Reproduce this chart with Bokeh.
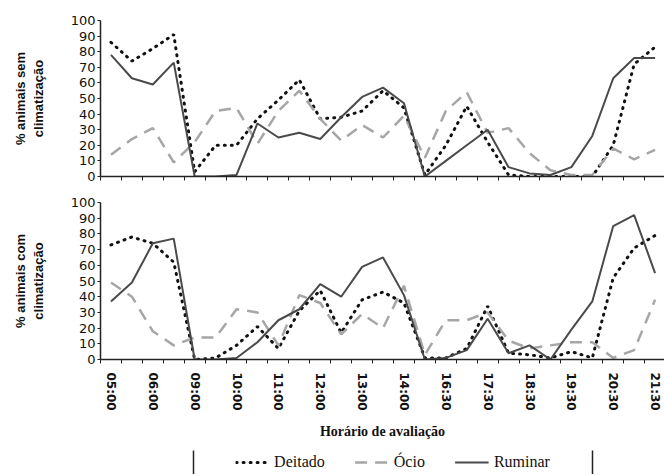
from bokeh.plotting import figure
from bokeh.models import FixedTicker, Range1d, LinearAxis, Legend, LegendItem
from bokeh.layouts import column
from bokeh.embed import file_html
from bokeh.resources import INLINE

# ---- data ----
times = ["05:00", "05:30", "06:00", "06:30", "09:00", "09:30", "10:00", "10:30",
         "11:00", "11:30", "12:00", "12:30", "13:00", "13:30", "14:00", "14:30",
         "16:30", "17:00", "17:30", "18:00", "18:30", "19:00", "19:30", "20:00",
         "20:30", "21:00", "21:30"]

# sem climatização (top panel)
sem_deitado = [86, 74, 82, 91, 3, 20, 20, 37, 49, 62, 37, 38, 42, 55, 44, 1,
               20, 45, 22, 1, 0, 0, 0, 0, 20, 72, 83]
sem_ocio = [14, 24, 31, 9, 22, 42, 44, 21, 42, 55, 37, 23, 33, 25, 39, 12,
            42, 54, 28, 31, 15, 4, 1, 1, 18, 11, 17]
sem_ruminar = [78, 63, 59, 73, 0, 0, 1, 34, 25, 28, 24, 38, 51, 57, 47, 0,
               10, 20, 30, 6, 2, 1, 6, 26, 63, 76, 76]

# com climatização (bottom panel)
com_deitado = [73, 78, 74, 62, 0, 1, 9, 21, 7, 31, 44, 17, 38, 43, 36, 1,
               1, 7, 34, 4, 3, 1, 5, 1, 52, 71, 79]
com_ocio = [49, 40, 18, 9, 14, 14, 32, 30, 9, 41, 36, 16, 29, 20, 47, 3,
            25, 25, 30, 12, 7, 9, 11, 11, 1, 6, 38]
com_ruminar = [37, 49, 74, 77, 0, 0, 1, 11, 25, 32, 48, 40, 59, 65, 41, 0,
               1, 6, 26, 4, 9, 0, 19, 37, 85, 92, 55]

y_ticks = list(range(0, 101, 10))
series_names = ["Deitado", "Ócio", "Ruminar"]

SANS = "DejaVu Sans"
AXIS_FONT = "Liberation Sans"
SERIF = "Liberation Serif"

C_DEIT = "#111111"
C_OCIO = "#a6a6a6"
C_RUM = "#4a4a4a"
C_AXIS = "#222222"

W = 664
xs = list(range(len(times)))
label_idx = list(range(0, len(times), 2))
minor = [i - 0.5 for i in range(len(times) + 1)]


def style_lines(p, d, o, r, xv=None):
    xv = xs if xv is None else xv
    r1 = p.line(xv, d, line_color=C_DEIT, line_width=3, line_dash="1 6",
                line_cap="round")
    r2 = p.line(xv, o, line_color=C_OCIO, line_width=2.5, line_dash="12 8")
    r3 = p.line(xv, r, line_color=C_RUM, line_width=2)
    return r1, r2, r3


def make_panel(ylabel, d, o, r, height, top_b, bottom_b, show_labels):
    p = figure(width=W, height=height, output_backend="svg", toolbar_location=None,
               x_range=Range1d(-0.5, 26.45), y_range=Range1d(0, 100),
               min_border_left=100, min_border_right=0, min_border_top=top_b,
               min_border_bottom=bottom_b)
    p.frame_align = False
    p.grid.visible = False
    p.outline_line_color = None
    p.background_fill_color = "white"
    style_lines(p, d, o, r)

    ya = p.yaxis[0]
    ya.ticker = FixedTicker(ticks=y_ticks, minor_ticks=[])
    ya.major_tick_out = 3
    ya.major_tick_in = 0
    ya.major_label_standoff = 2
    ya.major_label_text_font = SANS
    ya.major_label_text_font_size = "13px"
    ya.major_label_text_color = "#111111"
    ya.axis_line_color = C_AXIS
    ya.axis_line_width = 1.5
    ya.major_tick_line_color = C_AXIS
    ya.axis_label = ylabel
    ya.axis_label_text_font = AXIS_FONT
    ya.axis_label_text_font_style = "bold"
    ya.axis_label_text_font_size = "13px"
    ya.axis_label_text_color = "#111111"
    ya.axis_label_standoff = 22

    xa = p.xaxis[0]
    xa.axis_line_color = C_AXIS
    xa.axis_line_width = 1.5
    xa.major_tick_line_color = None
    xa.major_tick_out = 0
    xa.major_tick_in = 0
    xa.minor_tick_line_color = C_AXIS
    xa.minor_tick_out = 4
    xa.minor_tick_in = 0
    if show_labels:
        xa.ticker = FixedTicker(ticks=label_idx, minor_ticks=minor)
        xa.major_label_overrides = {i: times[i] for i in label_idx}
        xa.major_label_orientation = "vertical"
        xa.major_label_standoff = 9
        xa.major_label_text_font = SANS
        xa.major_label_text_font_style = "bold"
        xa.major_label_text_font_size = "12px"
        xa.major_label_text_color = "#111111"
        xa.axis_label = "Horário de avaliação"
        xa.axis_label_text_font = SERIF
        xa.axis_label_text_font_style = "bold"
        xa.axis_label_text_font_size = "14px"
        xa.axis_label_text_color = "#111111"
        xa.axis_label_standoff = 10
    else:
        xa.ticker = FixedTicker(ticks=[], minor_ticks=minor)
    return p


top = make_panel("% animais sem\nclimatização", sem_deitado, sem_ocio, sem_ruminar,
                 190, 20, 14, False)
bot = make_panel("% animais com\nclimatização", com_deitado, com_ocio, com_ruminar,
                 256, 12, 87, True)

# legend strip (sample lines kept out of the visible range)
lf = figure(width=W, height=28, output_backend="svg", toolbar_location=None,
            x_range=Range1d(-0.5, 26.45), y_range=Range1d(-20, -10),
            min_border_left=193, min_border_right=72, min_border_top=4,
            min_border_bottom=0, x_axis_location=None, y_axis_location=None)
lf.frame_align = False
lf.grid.visible = False
lf.outline_line_color = None
for side in ("left", "right"):
    ax = LinearAxis(ticker=FixedTicker(ticks=[], minor_ticks=[]),
                    axis_line_color=C_AXIS, axis_line_width=1.5,
                    major_tick_line_color=None, minor_tick_line_color=None,
                    major_label_text_font_size="0px")
    lf.add_layout(ax, side)

# text labels (glyph-free legend) drawn first, then glyph samples with hidden labels,
# both laid out identically
t1, t2, t3 = style_lines(lf, [], [], [], xv=[])
g1, g2, g3 = style_lines(lf, sem_deitado, sem_ocio, sem_ruminar)

common = dict(orientation="horizontal", location="center",
              border_line_color=None, background_fill_alpha=0,
              label_text_font=SERIF, label_text_font_size="16px",
              glyph_width=34, glyph_height=18, label_height=18,
              label_standoff=5, spacing=30, padding=0, margin=0)

text_legend = Legend(items=[LegendItem(label=n, renderers=[r])
                            for n, r in zip(series_names, [t1, t2, t3])],
                     label_text_color="#111111", **common)
glyph_legend = Legend(items=[LegendItem(label=n, renderers=[r])
                             for n, r in zip(series_names, [g1, g2, g3])],
                      label_text_color=None, **common)
lf.add_layout(text_legend)
lf.add_layout(glyph_legend)

layout = column(top, bot, lf, spacing=0)

open("out.html", "w").write(file_html(layout, INLINE))
